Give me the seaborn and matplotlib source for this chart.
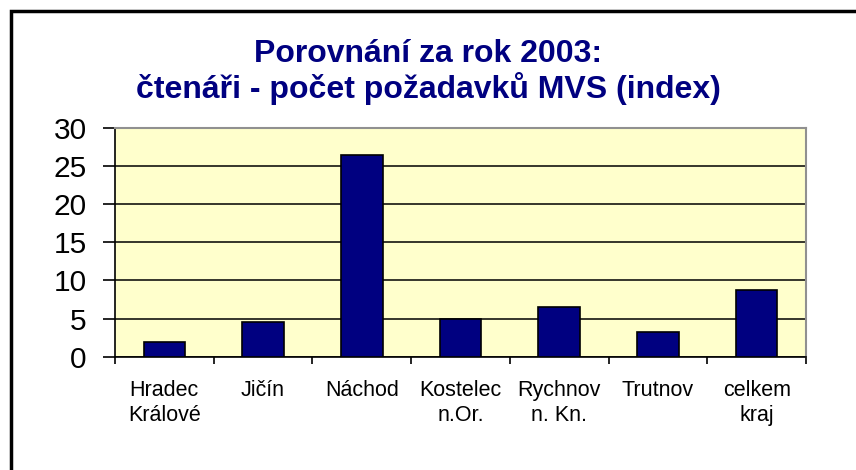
import numpy as np
import pandas as pd
import seaborn as sns
import matplotlib.pyplot as plt
from matplotlib.patches import Rectangle

# data
okresy = ["Hradec\nKrálové", "Jičín", "Náchod", "Kostelec\nn.Or.", "Rychnov\nn. Kn.", "Trutnov", "celkem\nkraj"]
index_mvs = [1.9, 4.6, 26.5, 4.95, 6.55, 3.25, 8.75]

df = pd.DataFrame({"okres": okresy, "index": index_mvs})

sns.set_theme(style="white")
plt.rcParams['font.family'] = ['Liberation Sans', 'DejaVu Sans']

fig = plt.figure(figsize=(8.56, 4.70), dpi=100)
ax = fig.add_axes([115/856, 1 - 356.7/470, (806-115)/856, (356.7-128)/470])

sns.barplot(data=df, x="okres", y="index", color="#000080", width=0.42,
            edgecolor="black", linewidth=1.2, saturation=1, ax=ax, zorder=3)

ax.set_facecolor("#FFFFCC")
ax.set_ylim(0, 30)
ax.set_xlim(-0.5, len(okresy) - 0.5)
ax.set_yticks(np.arange(0, 31, 5))
ax.yaxis.grid(True, color="black", linewidth=1.1, zorder=1)
ax.set_axisbelow(True)

#labels
ax.set_xlabel("")
ax.set_ylabel("")
ax.tick_params(axis="y", labelsize=21.5, labelcolor="black", length=8.5, width=1.2,
               color="black", direction="out", left=True, pad=12)
ax.tick_params(axis="x", which="major", length=0, labelsize=15.5, labelcolor="black", pad=17)
ax.set_xticks(np.arange(-0.5, len(okresy), 1), minor=True)
ax.tick_params(axis="x", which="minor", length=5, width=1.2, color="black", direction="out", bottom=True)

for side in ["top", "right"]:
    ax.spines[side].set_color("#909090")
    ax.spines[side].set_linewidth(1.5)
for side in ["left", "bottom"]:
    ax.spines[side].set_color("black")
    ax.spines[side].set_linewidth(1.2)

fig.text(0.5, 1 - 62/470, "Porovnání za rok 2003:", ha="center", va="baseline",
         fontsize=23, fontweight="bold", color="#000080")
fig.text(0.5, 1 - 98/470, "čtenáři - počet požadavků MVS (index)", ha="center", va="baseline",
         fontsize=23, fontweight="bold", color="#000080")

# outer chart frame (cut off on right and bottom)
fig.patches.append(Rectangle((10.5/856, -0.1), 1.2, 1.1 - 11/470, transform=fig.transFigure,
                             fill=False, edgecolor="black", linewidth=2.5))

plt.savefig("out.png", dpi=100)
plt.close()
